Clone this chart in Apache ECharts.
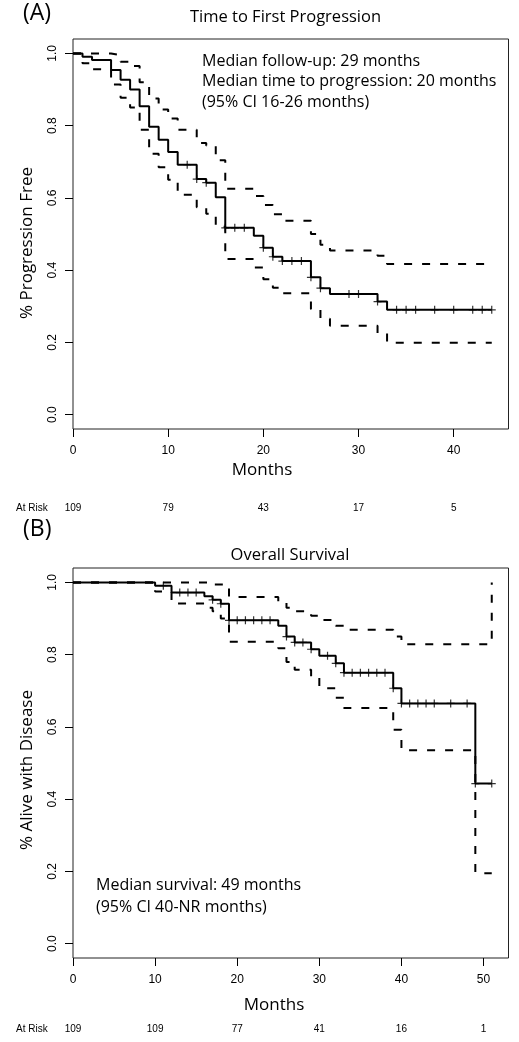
<!DOCTYPE html>
<html>
<head>
<meta charset="utf-8">
<script src="https://cdn.jsdelivr.net/npm/echarts@6/dist/echarts.min.js"></script>
<style>html,body{margin:0;padding:0;background:#fff}#c{width:519px;height:1042px}</style>
</head>
<body>
<div id="c"></div>
<script>
// ---------- Data ----------
// Panel A: Time to First Progression
const xTicksA = [0, 10, 20, 30, 40];
const atRiskA = [109, 79, 43, 17, 5];
const pfsTimes = [0, 1, 2, 4, 5, 6, 7, 8, 9, 10, 11, 13, 14, 15, 16, 19, 20, 21, 22, 25, 26, 27, 32, 33, 44];
const pfsSurv  = [1, 0.991, 0.982, 0.954, 0.927, 0.900, 0.854, 0.797, 0.761, 0.727, 0.692, 0.652, 0.642, 0.602, 0.517, 0.495, 0.462, 0.437, 0.425, 0.380, 0.350, 0.334, 0.313, 0.290, 0.290];
const pfsUpper = [1, 1, 1, 0.995, 0.977, 0.965, 0.920, 0.875, 0.845, 0.820, 0.789, 0.752, 0.745, 0.704, 0.625, 0.605, 0.580, 0.555, 0.537, 0.500, 0.470, 0.454, 0.440, 0.417, 0.417];
const pfsLower = [1, 0.973, 0.956, 0.914, 0.877, 0.850, 0.789, 0.722, 0.685, 0.650, 0.609, 0.574, 0.556, 0.520, 0.431, 0.407, 0.375, 0.351, 0.336, 0.292, 0.265, 0.246, 0.225, 0.199, 0.199];
const pfsCensorT = [12, 13, 14, 16, 17, 18, 20, 21, 22, 23, 24, 25, 26, 29, 30, 32, 34, 35, 36, 38, 40, 42, 43, 44];
const pfsCensorS = [0.692, 0.652, 0.642, 0.517, 0.517, 0.517, 0.462, 0.437, 0.425, 0.425, 0.425, 0.380, 0.350, 0.334, 0.334, 0.313, 0.290, 0.290, 0.290, 0.290, 0.290, 0.290, 0.290, 0.290];

// Panel B: Overall Survival
const xTicksB = [0, 10, 20, 30, 40, 50];
const atRiskB = [109, 109, 77, 41, 16, 1];
const osTimes = [0, 10, 12, 16, 17, 18, 19, 25, 26, 27, 29, 30, 32, 33, 39, 40, 49, 51];
const osSurv  = [1, 0.991, 0.972, 0.962, 0.952, 0.941, 0.895, 0.880, 0.850, 0.834, 0.815, 0.797, 0.776, 0.750, 0.707, 0.665, 0.443, 0.443];
const osUpper = [1, 1, 1, 1, 0.994, 0.994, 0.960, 0.945, 0.930, 0.920, 0.908, 0.896, 0.880, 0.869, 0.850, 0.829, 0.829, 1.0];
const osLower = [1, 0.975, 0.942, 0.930, 0.920, 0.900, 0.836, 0.818, 0.780, 0.758, 0.738, 0.707, 0.681, 0.652, 0.592, 0.535, 0.195, 0.195];
const osCensorT = [11, 13, 14, 15, 17, 18, 19, 20, 21, 22, 23, 24, 26, 27, 28, 29, 31, 32, 33, 34, 35, 36, 37, 38, 39, 40, 41, 42, 43, 44, 46, 48, 49, 51];
const osCensorS = [0.991, 0.972, 0.972, 0.972, 0.952, 0.941, 0.895, 0.895, 0.895, 0.895, 0.895, 0.895, 0.850, 0.834, 0.834, 0.815, 0.797, 0.776, 0.750, 0.750, 0.750, 0.750, 0.750, 0.750, 0.707, 0.665, 0.665, 0.665, 0.665, 0.665, 0.665, 0.665, 0.443, 0.443];

const yTicks = [0, 0.2, 0.4, 0.6, 0.8, 1.0];

// ---------- Chart ----------
const chart = echarts.init(document.getElementById('c'), null, {renderer: 'canvas'});
const TXT = '"Open Sans", "Noto Sans", sans-serif';
const NUM = '"Liberation Sans", Arial, sans-serif';
const plus = 'path://M3.4,0H4.6V3.4H8V4.6H4.6V8H3.4V4.6H0V3.4H3.4Z';

function zip(a, b) { return a.map((v, i) => [v, b[i]]); }

function mainX(grid, max, ticks) {
  return {
    type: 'value', gridIndex: grid, min: 0, max: max, position: 'bottom',
    axisLine: {show: false, onZero: false}, splitLine: {show: false},
    axisTick: {show: true, length: 8, customValues: ticks, lineStyle: {color: '#000', width: 1}},
    axisLabel: {customValues: ticks, margin: 16, fontFamily: NUM, fontSize: 12, color: '#000'}
  };
}
function riskX(grid, max, ticks, risk, off) {
  return {
    type: 'value', gridIndex: grid, min: 0, max: max, position: 'bottom', offset: off,
    axisLine: {show: false, onZero: false}, splitLine: {show: false}, axisTick: {show: false},
    axisLabel: {customValues: ticks, margin: 0, fontFamily: NUM, fontSize: 10, color: '#000',
      formatter: v => String(risk[ticks.indexOf(v)])}
  };
}
function mainY(grid) {
  return {
    type: 'value', gridIndex: grid, min: -0.04, max: 1.04, position: 'left',
    axisLine: {show: false, onZero: false}, splitLine: {show: false},
    axisTick: {show: true, length: 8, customValues: yTicks, lineStyle: {color: '#000', width: 1}},
    axisLabel: {customValues: yTicks, rotate: 90, margin: 14, fontFamily: NUM, fontSize: 12, color: '#000',
      formatter: v => v.toFixed(1)}
  };
}
function km(xi, yi, data, dashed) {
  return {
    type: 'line', xAxisIndex: xi, yAxisIndex: yi, data: data, step: 'end',
    symbol: 'none', showSymbol: false, silent: true, animation: false,
    lineStyle: {color: '#000', width: 2, type: dashed ? [8, 10] : 'solid', cap: 'butt'}
  };
}
function cens(xi, yi, data) {
  return {
    type: 'scatter', xAxisIndex: xi, yAxisIndex: yi, data: data,
    symbol: plus, symbolSize: 8, itemStyle: {color: '#000'}, silent: true, animation: false
  };
}
function txt(x, y, s, size, opts) {
  return Object.assign({
    type: 'text', x: x, y: y, silent: true,
    style: {text: s, font: size + 'px ' + TXT, fill: '#000', align: 'center', verticalAlign: 'middle'}
  }, opts || {});
}
function ltxt(x, y, s, size, fam) {
  return {
    type: 'text', x: x, y: y, silent: true,
    style: {text: s, font: size + 'px ' + (fam || TXT), fill: '#000', align: 'left', verticalAlign: 'middle'}
  };
}

const option = {
  backgroundColor: '#fff',
  animation: false,
  grid: [
    {left: 73, top: 39, width: 435.5, height: 390, show: true, borderColor: '#222', borderWidth: 1, backgroundColor: 'transparent'},
    {left: 73, top: 568, width: 435.5, height: 390, show: true, borderColor: '#222', borderWidth: 1, backgroundColor: 'transparent'}
  ],
  xAxis: [
    mainX(0, 45.76, xTicksA),
    riskX(0, 45.76, xTicksA, atRiskA, 74),
    mainX(1, 53.04, xTicksB),
    riskX(1, 53.04, xTicksB, atRiskB, 66)
  ],
  yAxis: [mainY(0), mainY(1)],
  series: [
    km(0, 0, zip(pfsTimes, pfsSurv), false),
    km(0, 0, zip(pfsTimes, pfsUpper), true),
    km(0, 0, zip(pfsTimes, pfsLower), true),
    cens(0, 0, zip(pfsCensorT, pfsCensorS)),
    km(2, 1, zip(osTimes, osSurv), false),
    km(2, 1, zip(osTimes, osUpper), true),
    km(2, 1, zip(osTimes, osLower), true),
    cens(2, 1, zip(osCensorT, osCensorS))
  ],
  graphic: [
    ltxt(23, 13, '(A)', 23),
    txt(285.5, 17, 'Time to First Progression', 16.5),
    ltxt(202, 61, 'Median follow-up: 29 months', 16),
    ltxt(202, 81.5, 'Median time to progression: 20 months', 16),
    ltxt(202, 102, '(95% CI 16-26 months)', 16),
    txt(262, 470.5, 'Months', 17),
    txt(27, 243, '% Progression Free', 17, {rotation: Math.PI / 2}),
    ltxt(16, 508, 'At Risk', 10, NUM),

    ltxt(23, 529, '(B)', 23),
    txt(290, 555, 'Overall Survival', 16.5),
    ltxt(96, 885, 'Median survival: 49 months', 16),
    ltxt(96, 907, '(95% CI 40-NR months)', 16),
    txt(274, 1005, 'Months', 17),
    txt(27, 770, '% Alive with Disease', 17, {rotation: Math.PI / 2}),
    ltxt(16, 1029, 'At Risk', 10, NUM)
  ]
};
chart.setOption(option);
</script>
</body>
</html>
